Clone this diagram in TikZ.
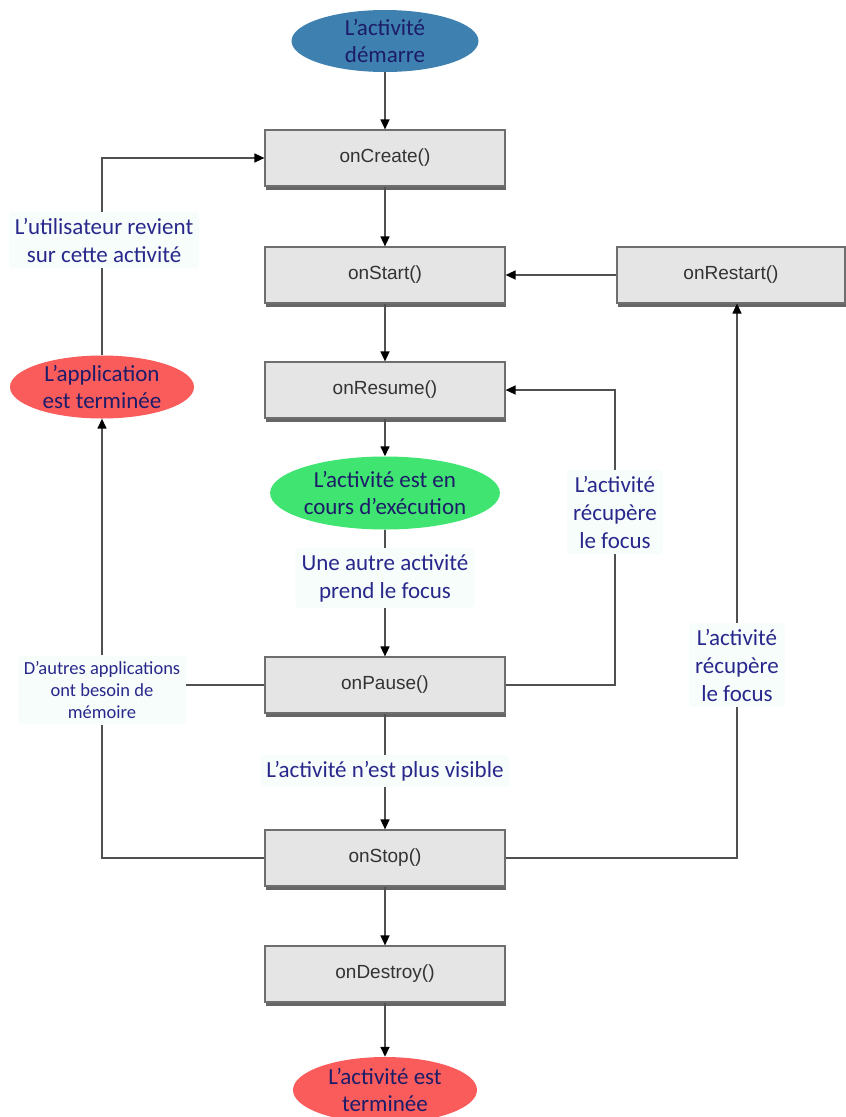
\documentclass[tikz,border=0pt]{standalone}
\usepackage{fontspec}
\setmainfont{Carlito}
\newfontfamily\boxfont{Liberation Sans}
\usetikzlibrary{shapes.geometric,arrows.meta,shadows}
\definecolor{bleu}{RGB}{62,128,175}
\definecolor{vert}{RGB}{64,228,112}
\definecolor{rouge}{RGB}{250,92,92}
\definecolor{marine}{RGB}{28,28,105}
\definecolor{encre}{RGB}{40,40,140}
\definecolor{fondgris}{RGB}{229,229,229}
\definecolor{bordgris}{RGB}{110,110,110}
\definecolor{trait}{RGB}{80,80,80}
\definecolor{fondvert}{RGB}{247,253,250}

\begin{document}
\begin{tikzpicture}[x=1pt,y=-1pt,
    etape/.style={draw=bordgris,line width=1.2pt,fill=fondgris,minimum width=240pt,minimum height=56pt,
        font=\boxfont\fontsize{19}{22}\selectfont,text=black!80,
        drop shadow={shadow xshift=1pt,shadow yshift=-4pt,opacity=.8,fill=black!75}},
    etat/.style={ellipse,inner sep=0pt,font=\fontsize{23}{27}\selectfont,text=marine,align=center},
    legende/.style={fill=fondvert,rounded corners=4pt,font=\fontsize{23}{28}\selectfont,text=encre,align=center,inner sep=6pt},
    fleche/.style={-{Triangle[width=9pt,length=10pt,black]},line width=1.5pt,draw=trait},
    lien/.style={line width=1.5pt,draw=trait}]
    \useasboundingbox (0,0) rectangle (846,1117);

    \node[etat,fill=bleu,minimum width=187pt,minimum height=62pt] (debut) at (385,41) {L'activité\\démarre};
    \node[etape] (create) at (385,158) {onCreate()};
    \node[etape] (start) at (385,275) {onStart()};
    \node[etape,minimum width=228pt] (restart) at (731,275) {onRestart()};
    \node[etape] (resume) at (385,390) {onResume()};
    \node[etat,fill=vert,minimum width=220pt,minimum height=73pt] (running) at (385,493) {L'activité est en\\cours d'exécution};
    \node[legende] (focus) at (385,578) {Une autre activité\\prend le focus};
    \node[etape] (pause) at (385,685) {onPause()};
    \node[legende] (visible) at (385,771) {L'activité n'est plus visible};
    \node[etape] (stop) at (385,858) {onStop()};
    \node[etape] (destroy) at (385,974) {onDestroy()};
    \node[etat,fill=rouge,minimum width=184pt,minimum height=66pt] (fin) at (385,1090) {L'activité est\\terminée};
    \node[etat,fill=rouge,minimum width=184pt,minimum height=63pt] (appfin) at (102,387) {L'application\\est terminée};
    \node[legende] (revient) at (104,240) {L'utilisateur revient\\sur cette activité};
    \node[legende,font=\fontsize{18.5}{22}\selectfont] (memoire) at (102,690) {D'autres applications\\ont besoin de\\mémoire};
    \node[legende] (recup1) at (615,512) {L'activité\\récupère\\le focus};
    \node[legende] (recup2) at (737,665) {L'activité\\récupère\\le focus};

    \draw[fleche] (debut) -- (create);
    \draw[fleche] (create) -- (start);
    \draw[fleche] (start) -- (resume);
    \draw[fleche] (resume) -- (running);
    \draw[lien] (running) -- (focus);
    \draw[fleche] (focus) -- (pause);
    \draw[lien] (pause) -- (visible);
    \draw[fleche] (visible) -- (stop);
    \draw[fleche] (stop) -- (destroy);
    \draw[fleche] (destroy) -- (fin);
    \draw[fleche] (restart) -- (start);
    \draw[lien] (pause) -| (recup1);
    \draw[fleche] (recup1) |- (resume);
    \draw[lien] (stop) -| (recup2);
    \draw[fleche] (recup2) -- (recup2 |- restart.south);
    \draw[lien] (stop) -| (memoire);
    \draw[lien] (pause.west) -- (pause.west -| memoire.east);
    \draw[fleche] (memoire) -- (memoire |- appfin.south);
    \draw[lien] (appfin) -- (appfin |- revient.south);
    \draw[fleche] (appfin |- revient.north) |- (create);
\end{tikzpicture}
\end{document}
